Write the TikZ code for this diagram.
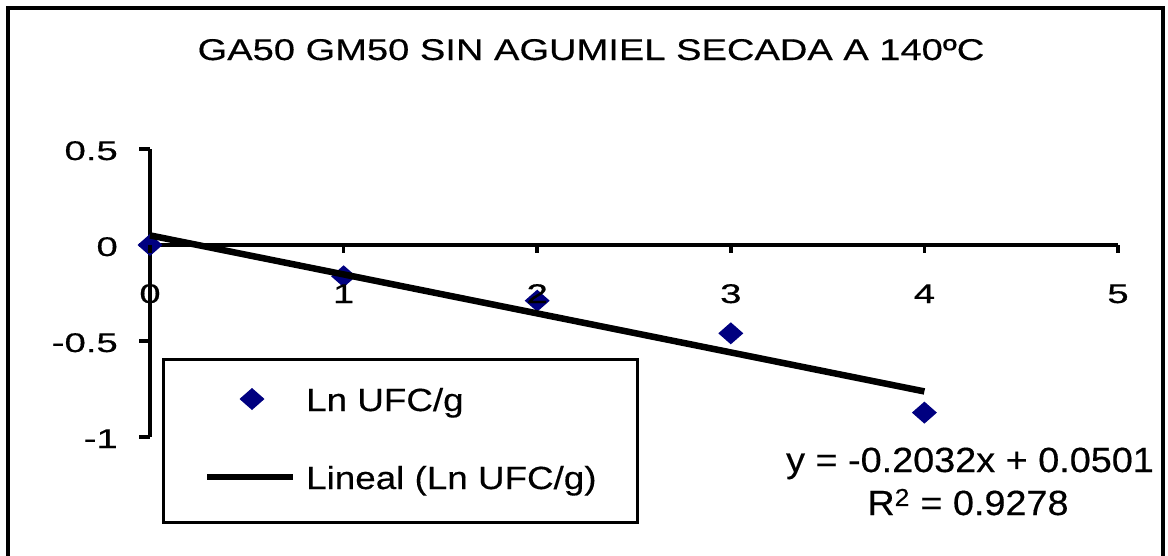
\documentclass[tikz,border=0pt]{standalone}
\usepackage{fontspec}
\setmainfont{Liberation Sans}
\newfontfamily\titlefont[FakeStretch=1.27,FakeBold=0.4]{Liberation Sans}
\newfontfamily\tickfont[FakeStretch=1.42,FakeBold=0.5]{Liberation Sans}
\newfontfamily\legfont[FakeStretch=1.15,FakeBold=0.4]{Liberation Sans}
\newfontfamily\eqfont[FakeStretch=1.08,FakeBold=0.4]{Liberation Sans}
\definecolor{navy}{HTML}{000080}
\tikzset{
  framebox/.style={draw=black, line width=4pt},
  axisline/.style={draw=black, line width=3.5pt},
  trend/.style={draw=black, line width=6.5pt},
  ticklabel/.style={inner sep=0pt, font={\tickfont\fontsize{27}{30}\selectfont}},
  leglabel/.style={inner sep=0pt, anchor=base west, font={\legfont\fontsize{32}{38}\selectfont}},
  eqlabel/.style={inner sep=0pt, anchor=base, font={\eqfont\fontsize{35}{40}\selectfont}},
  titlelabel/.style={inner sep=0pt, anchor=base, font={\titlefont\fontsize{30}{36}\selectfont}},
  datamark/.pic={\fill[navy] (-12.5,0) -- (0,-11) -- (12.5,0) -- (0,11) -- cycle;}
}
\begin{document}
\begin{tikzpicture}[x=1pt,y=-1pt]
\useasboundingbox (0,0) rectangle (1168,555);
\clip (0,0) rectangle (1168,555);
\fill[white] (0,0) rectangle (1168,555);
% outer frame
\draw[framebox] (8,7.5) rectangle (1163,590);
% title
\node[titlelabel] (title) at (591,60) {GA50 GM50 SIN AGUMIEL SECADA A 140ºC};
% axes
\coordinate (ytop) at (150,149);
\coordinate (ybot) at (150,437);
\coordinate (xorig) at (150,245);
\coordinate (xend) at (1118,245);
\draw[axisline] (ytop) -- (ybot);
\draw[axisline] (xorig) -- (xend);
% y ticks and labels
\foreach \ty/\lab in {149/0.5, 245/0, 341/-0.5, 437/-1}{
  \draw[axisline] (139,\ty) -- (150,\ty);
  \node[ticklabel, anchor=base east] at (118,\ty+11) {\lab};
}
% data points
\foreach \k/\v in {0/0, 1/-0.163, 2/-0.29, 3/-0.46, 4/-0.873}{
  \pic at ({150+193.6*\k},{245-192*\v}) {datamark};
}
% x ticks and labels
\foreach \k in {0,1,2,3,4,5}{
  \draw[axisline] ({150+193.6*\k},245) -- ({150+193.6*\k},253);
  \node[ticklabel, anchor=base] at ({150+193.6*\k},303) {\k};
}
% trend line
\coordinate (tstart) at (150,{245-192*0.0501});
\coordinate (tend) at ({150+193.6*4},{245+192*0.7627});
\draw[trend] (tstart) -- (tend);
% legend
\draw[fill=white, draw=black, line width=3pt] (163,359) rectangle (637,522);
\pic at (252,399) {datamark};
\coordinate (legA) at (207,477);
\coordinate (legB) at (293,477);
\draw[trend] (legA) -- (legB);
\node[leglabel] (l1) at (306,411) {Ln UFC/g};
\node[leglabel] (l2) at (306,489) {Lineal (Ln UFC/g)};
% equation
\node[eqlabel] (eq1) at (970,472) {y = -0.2032x + 0.0501};
\node[eqlabel] (eq2) at (968,515) {R\textsuperscript{2} = 0.9278};
\end{tikzpicture}
\end{document}
